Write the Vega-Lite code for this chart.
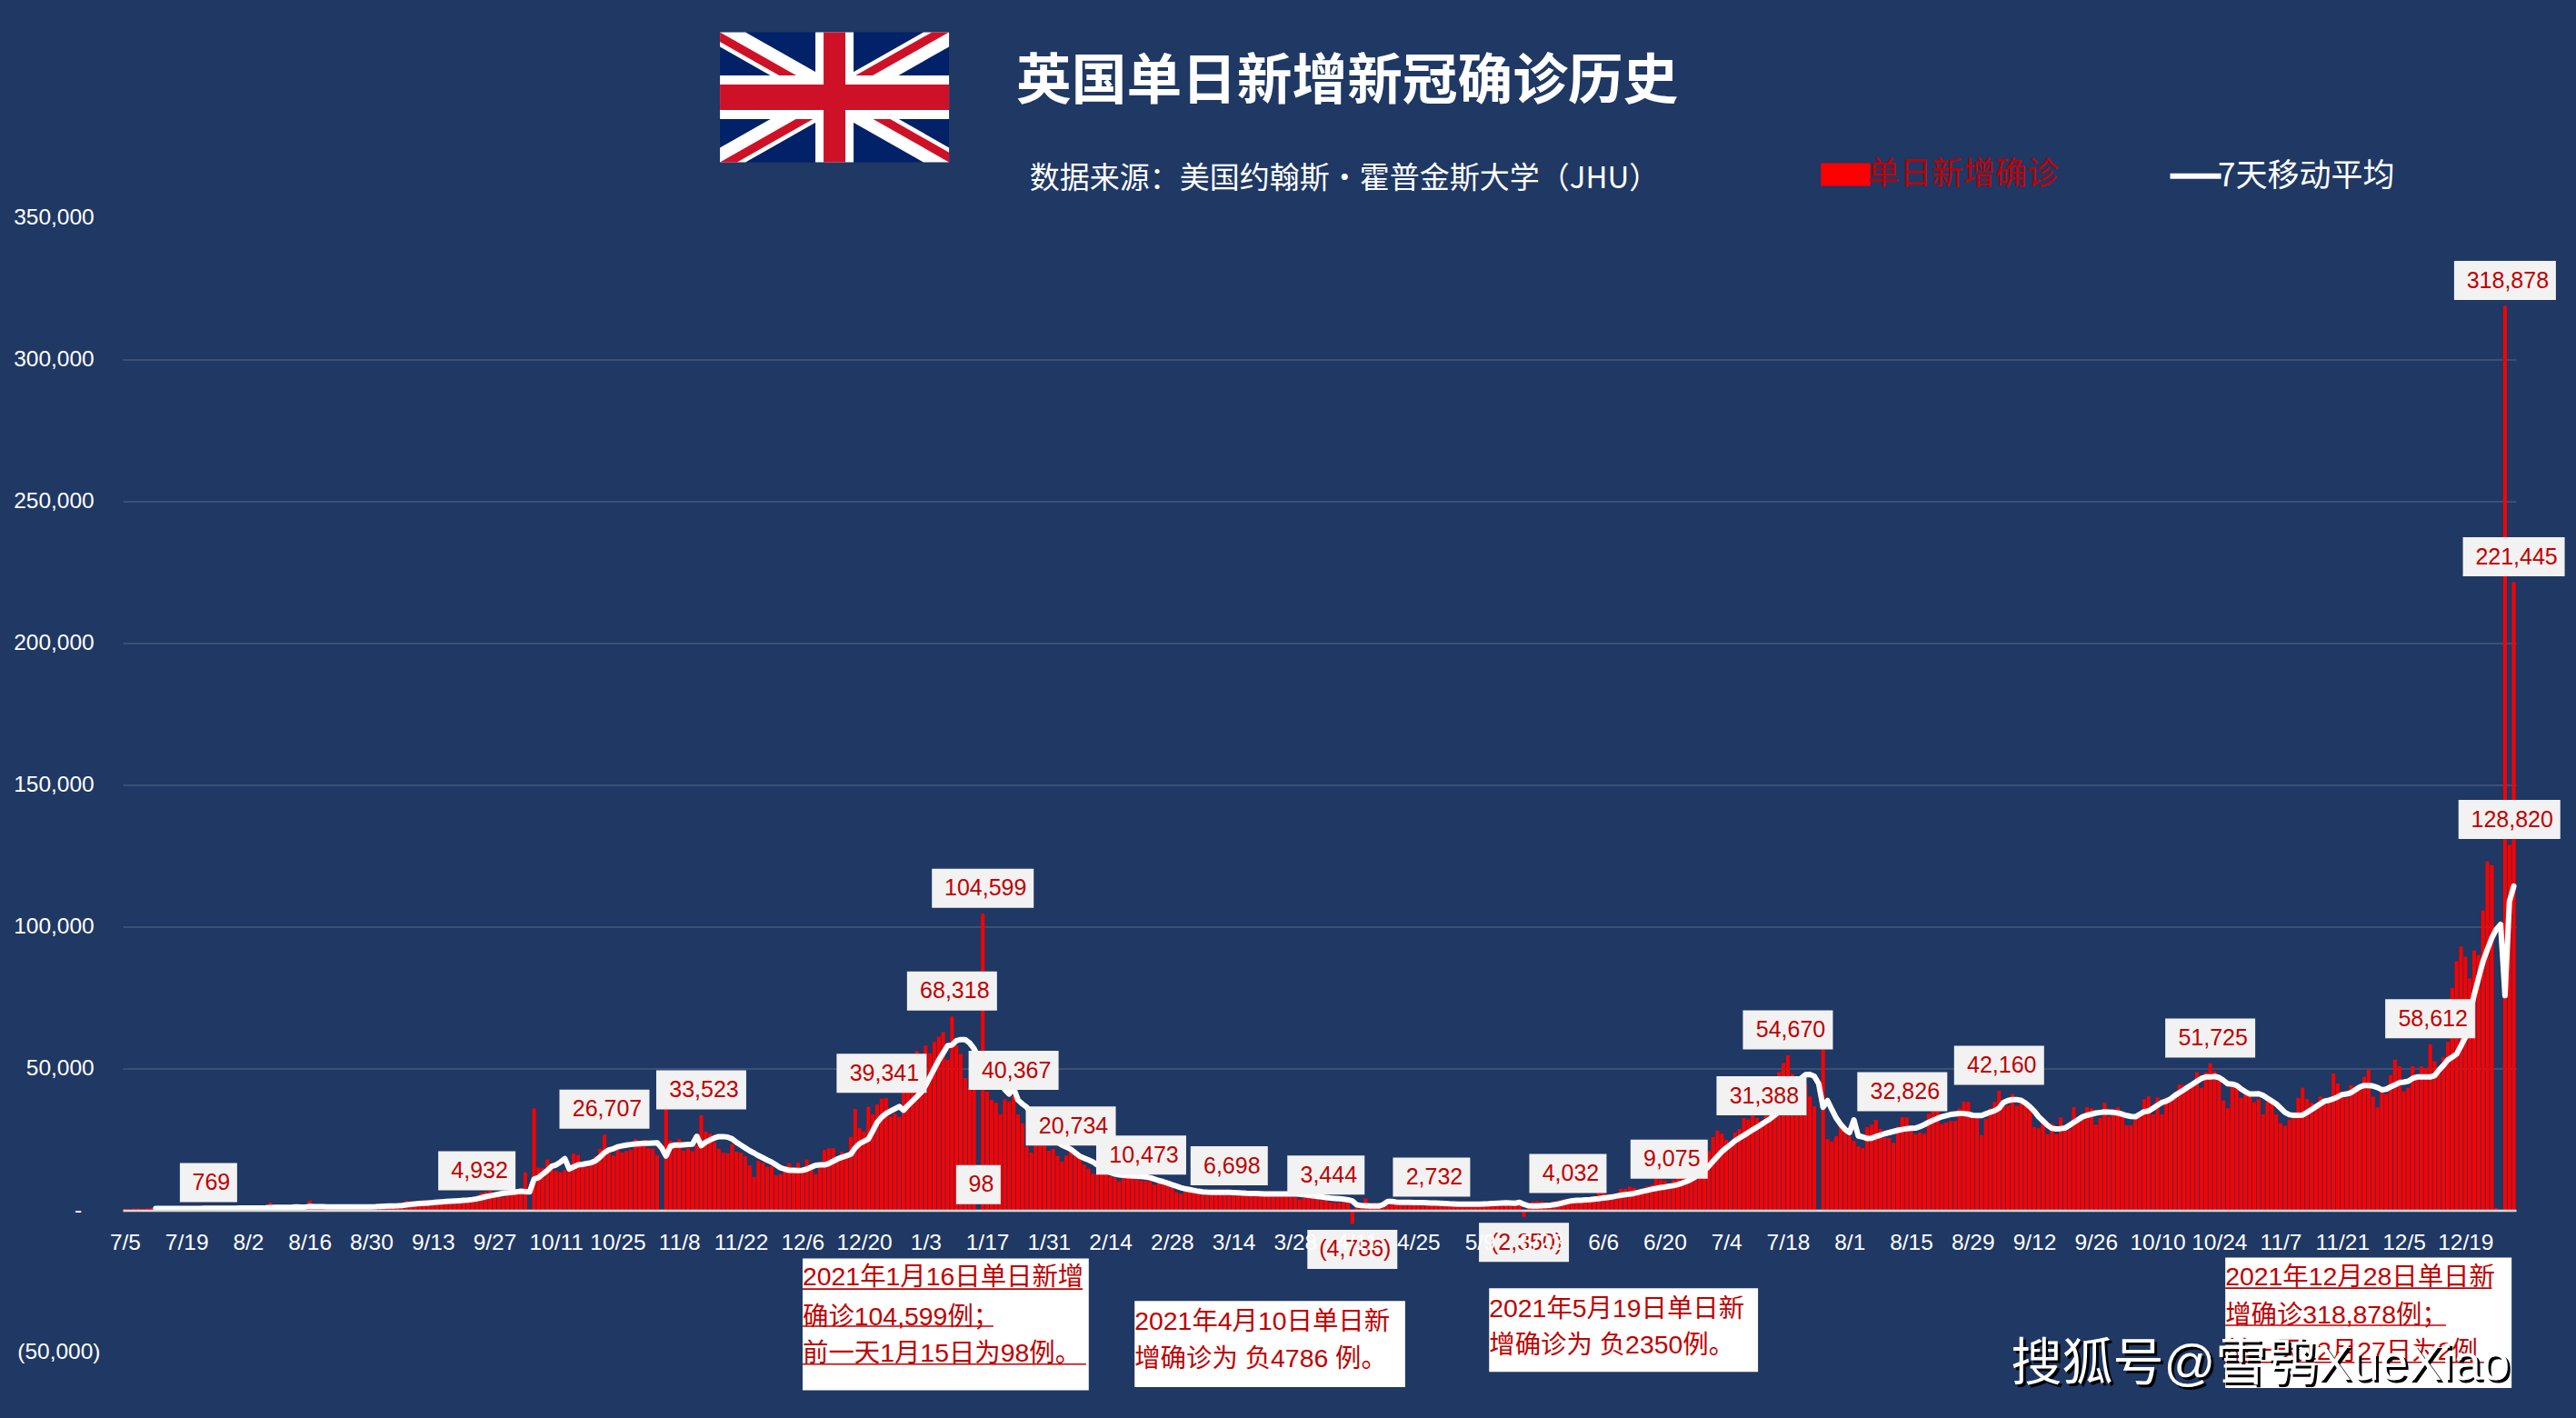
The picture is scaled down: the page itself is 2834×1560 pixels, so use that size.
{"$schema":"https://vega.github.io/schema/vega-lite/v6.json","autosize":{"type":"none"},"padding":{"left":135,"top":239.5,"right":66,"bottom":72.5},"width":2633,"height":1248,"background":"#1F3864","config":{"view":{"stroke":null},"font":"Liberation Sans, Noto Sans CJK SC"},
"title":{"text":"英国单日新增新冠确诊历史","subtitle":"\u200b\u00a0\u00a0数据来源：美国约翰斯·霍普金斯大学（JHU）","anchor":"start","frame":"group","dx":983,"dy":206,"offset":26,"font":"Noto Sans CJK SC","fontSize":60.7,"fontWeight":"bold","color":"#FFFFFF","subtitleFont":"Noto Sans CJK SC","subtitleFontSize":33,"subtitleColor":"#FFFFFF","subtitlePadding":60},
"datasets":{
"daily":[
{"date":"2020-07-05","n":516},{"date":"2020-07-06","n":352},{"date":"2020-07-07","n":581},{"date":"2020-07-08","n":630},{"date":"2020-07-09","n":512},{"date":"2020-07-10","n":642},{"date":"2020-07-11","n":820},{"date":"2020-07-12","n":650,"ma":640},{"date":"2020-07-13","n":530,"ma":640},{"date":"2020-07-14","n":538,"ma":640},{"date":"2020-07-15","n":463,"ma":640},{"date":"2020-07-16","n":642,"ma":640},{"date":"2020-07-17","n":687,"ma":650},{"date":"2020-07-18","n":700,"ma":660},{"date":"2020-07-19","n":726,"ma":670},{"date":"2020-07-20","n":580,"ma":680},{"date":"2020-07-21","n":445,"ma":680},{"date":"2020-07-22","n":560,"ma":680},{"date":"2020-07-23","n":730,"ma":690},{"date":"2020-07-24","n":769,"ma":700},{"date":"2020-07-25","n":768,"ma":710},{"date":"2020-07-26","n":743,"ma":710},{"date":"2020-07-27","n":685,"ma":720},{"date":"2020-07-28","n":581,"ma":730},{"date":"2020-07-29","n":763,"ma":740},{"date":"2020-07-30","n":846,"ma":760},{"date":"2020-07-31","n":880,"ma":780},
{"date":"2020-08-01","n":744,"ma":800},{"date":"2020-08-02","n":744,"ma":810},{"date":"2020-08-03","n":939,"ma":820},{"date":"2020-08-04","n":670,"ma":830},{"date":"2020-08-05","n":892,"ma":840},{"date":"2020-08-06","n":950,"ma":850},{"date":"2020-08-07","n":2700,"ma":1000},{"date":"2020-08-08","n":871,"ma":1030},{"date":"2020-08-09","n":1062,"ma":1050},{"date":"2020-08-10","n":816,"ma":1060},{"date":"2020-08-11","n":1148,"ma":1080},{"date":"2020-08-12","n":1009,"ma":1100},{"date":"2020-08-13","n":2000,"ma":1200},{"date":"2020-08-14","n":1440,"ma":1150},{"date":"2020-08-15","n":1012,"ma":1160},{"date":"2020-08-16","n":3400,"ma":1330},{"date":"2020-08-17","n":713,"ma":1300},{"date":"2020-08-18","n":812,"ma":1280},{"date":"2020-08-19","n":1182,"ma":1270},{"date":"2020-08-20","n":1033,"ma":1200},{"date":"2020-08-21","n":1288,"ma":1180},{"date":"2020-08-22","n":1041,"ma":1180},{"date":"2020-08-23","n":1700,"ma":1240},{"date":"2020-08-24","n":853,"ma":1200},{"date":"2020-08-25","n":1184,"ma":1190},{"date":"2020-08-26","n":1048,"ma":1180},{"date":"2020-08-27","n":1522,"ma":1200},{"date":"2020-08-28","n":1276,"ma":1200},{"date":"2020-08-29","n":1108,"ma":1200},{"date":"2020-08-30","n":1715,"ma":1200},{"date":"2020-08-31","n":1406,"ma":1250},
{"date":"2020-09-01","n":1295,"ma":1400},{"date":"2020-09-02","n":1508,"ma":1450},{"date":"2020-09-03","n":1735,"ma":1500},{"date":"2020-09-04","n":1813,"ma":1550},{"date":"2020-09-05","n":1900,"ma":1600},{"date":"2020-09-06","n":2500,"ma":1700},{"date":"2020-09-07","n":3300,"ma":1900},{"date":"2020-09-08","n":3200,"ma":2100},{"date":"2020-09-09","n":2700,"ma":2250},{"date":"2020-09-10","n":2900,"ma":2400},{"date":"2020-09-11","n":3500,"ma":2500},{"date":"2020-09-12","n":3700,"ma":2600},{"date":"2020-09-13","n":3300,"ma":2700},{"date":"2020-09-14","n":3000,"ma":2850},{"date":"2020-09-15","n":3300,"ma":3000},{"date":"2020-09-16","n":3900,"ma":3100},{"date":"2020-09-17","n":3400,"ma":3200},{"date":"2020-09-18","n":3400,"ma":3300},{"date":"2020-09-19","n":3900,"ma":3400},{"date":"2020-09-20","n":3900,"ma":3500},{"date":"2020-09-21","n":3900,"ma":3600},{"date":"2020-09-22","n":4000,"ma":3800},{"date":"2020-09-23","n":4932,"ma":4050},{"date":"2020-09-24","n":6200,"ma":4400},{"date":"2020-09-25","n":6500,"ma":4800},{"date":"2020-09-26","n":6900,"ma":5100},{"date":"2020-09-27","n":5700,"ma":5400},{"date":"2020-09-28","n":5700,"ma":5700},{"date":"2020-09-29","n":4600,"ma":6000},{"date":"2020-09-30","n":6000,"ma":6150},
{"date":"2020-10-01","n":6200,"ma":6300},{"date":"2020-10-02","n":6400,"ma":6500},{"date":"2020-10-03","n":7000,"ma":6700},{"date":"2020-10-04","n":13400,"ma":6600},{"date":"2020-10-05","n":300,"ma":6500},{"date":"2020-10-06","n":35950,"ma":11000},{"date":"2020-10-07","n":15000,"ma":11500},{"date":"2020-10-08","n":14800,"ma":12800},{"date":"2020-10-09","n":17900,"ma":14000},{"date":"2020-10-10","n":14500,"ma":15500},{"date":"2020-10-11","n":13900,"ma":16000},{"date":"2020-10-12","n":13400,"ma":17000},{"date":"2020-10-13","n":14250,"ma":18200},{"date":"2020-10-14","n":15500,"ma":14600},{"date":"2020-10-15","n":20000,"ma":15300},{"date":"2020-10-16","n":19450,"ma":16000},{"date":"2020-10-17","n":15500,"ma":16200},{"date":"2020-10-18","n":15300,"ma":16500},{"date":"2020-10-19","n":16500,"ma":16800},{"date":"2020-10-20","n":19050,"ma":17500},{"date":"2020-10-21","n":21700,"ma":18800},{"date":"2020-10-22","n":26707,"ma":20300},{"date":"2020-10-23","n":21700,"ma":21300},{"date":"2020-10-24","n":19250,"ma":21700},{"date":"2020-10-25","n":23200,"ma":22400},{"date":"2020-10-26","n":20300,"ma":22700},{"date":"2020-10-27","n":20850,"ma":23000},{"date":"2020-10-28","n":21400,"ma":23200},{"date":"2020-10-29","n":25100,"ma":23400},{"date":"2020-10-30","n":23500,"ma":23500},{"date":"2020-10-31","n":24900,"ma":23600},
{"date":"2020-11-01","n":21900,"ma":23600},{"date":"2020-11-02","n":21700,"ma":23700},{"date":"2020-11-03","n":19450,"ma":23800},{"date":"2020-11-04","n":300,"ma":22000},{"date":"2020-11-05","n":36000,"ma":19100},{"date":"2020-11-06","n":24550,"ma":22600},{"date":"2020-11-07","n":23500,"ma":23000},{"date":"2020-11-08","n":25100,"ma":23000},{"date":"2020-11-09","n":21000,"ma":23100},{"date":"2020-11-10","n":21900,"ma":23200},{"date":"2020-11-11","n":20850,"ma":23300},{"date":"2020-11-12","n":23000,"ma":26100},{"date":"2020-11-13","n":33523,"ma":22800},{"date":"2020-11-14","n":27750,"ma":24000},{"date":"2020-11-15","n":27000,"ma":24800},{"date":"2020-11-16","n":24000,"ma":25500},{"date":"2020-11-17","n":21700,"ma":26000},{"date":"2020-11-18","n":20300,"ma":26000},{"date":"2020-11-19","n":20100,"ma":25800},{"date":"2020-11-20","n":23300,"ma":25200},{"date":"2020-11-21","n":20650,"ma":24000},{"date":"2020-11-22","n":20300,"ma":23000},{"date":"2020-11-23","n":19050,"ma":22000},{"date":"2020-11-24","n":15850,"ma":21000},{"date":"2020-11-25","n":11800,"ma":20200},{"date":"2020-11-26","n":17450,"ma":19300},{"date":"2020-11-27","n":16800,"ma":18500},{"date":"2020-11-28","n":15300,"ma":17700},{"date":"2020-11-29","n":15500,"ma":17000},{"date":"2020-11-30","n":12350,"ma":16000},
{"date":"2020-12-01","n":12770,"ma":15000},{"date":"2020-12-02","n":13950,"ma":14500},{"date":"2020-12-03","n":16600,"ma":14100},{"date":"2020-12-04","n":14250,"ma":14100},{"date":"2020-12-05","n":16800,"ma":14000},{"date":"2020-12-06","n":15000,"ma":14100},{"date":"2020-12-07","n":17900,"ma":14500},{"date":"2020-12-08","n":15000,"ma":15200},{"date":"2020-12-09","n":12770,"ma":15900},{"date":"2020-12-10","n":16800,"ma":16000},{"date":"2020-12-11","n":21300,"ma":16000},{"date":"2020-12-12","n":21900,"ma":16500},{"date":"2020-12-13","n":21900,"ma":17300},{"date":"2020-12-14","n":18200,"ma":18100},{"date":"2020-12-15","n":20650,"ma":18700},{"date":"2020-12-16","n":18200,"ma":19200},{"date":"2020-12-17","n":25850,"ma":19800},{"date":"2020-12-18","n":35750,"ma":22000},{"date":"2020-12-19","n":29000,"ma":23500},{"date":"2020-12-20","n":27800,"ma":24300},{"date":"2020-12-21","n":36500,"ma":25100},{"date":"2020-12-22","n":33800,"ma":28000},{"date":"2020-12-23","n":37350,"ma":31000},{"date":"2020-12-24","n":39341,"ma":32800},{"date":"2020-12-25","n":39570,"ma":34100},{"date":"2020-12-26","n":33100,"ma":35000},{"date":"2020-12-27","n":34150,"ma":35800},{"date":"2020-12-28","n":32800,"ma":36600},{"date":"2020-12-29","n":50000,"ma":35300},{"date":"2020-12-30","n":47000,"ma":37000},{"date":"2020-12-31","n":51000,"ma":38500},
{"date":"2021-01-01","n":56200,"ma":40000},{"date":"2021-01-02","n":54000,"ma":41600},{"date":"2021-01-03","n":58100,"ma":44000},{"date":"2021-01-04","n":55400,"ma":47000},{"date":"2021-01-05","n":59350,"ma":50000},{"date":"2021-01-06","n":61250,"ma":53000},{"date":"2021-01-07","n":62860,"ma":55500},{"date":"2021-01-08","n":53080,"ma":58000},{"date":"2021-01-09","n":68318,"ma":58300},{"date":"2021-01-10","n":58100,"ma":59800},{"date":"2021-01-11","n":55100,"ma":60200},{"date":"2021-01-12","n":46600,"ma":60200},{"date":"2021-01-13","n":43200,"ma":59000},{"date":"2021-01-14","n":43700,"ma":57000},{"date":"2021-01-15","n":98,"ma":54000},{"date":"2021-01-16","n":104599,"ma":53000},{"date":"2021-01-17","n":41800,"ma":50500},{"date":"2021-01-18","n":38900,"ma":48000},{"date":"2021-01-19","n":37900,"ma":46000},{"date":"2021-01-20","n":33840,"ma":44500},{"date":"2021-01-21","n":39150,"ma":42600},{"date":"2021-01-22","n":38400,"ma":41000},{"date":"2021-01-23","n":40367,"ma":43200},{"date":"2021-01-24","n":33800,"ma":38900},{"date":"2021-01-25","n":30650,"ma":37500},{"date":"2021-01-26","n":22500,"ma":36300},{"date":"2021-01-27","n":20340,"ma":34500},{"date":"2021-01-28","n":25000,"ma":33000},{"date":"2021-01-29","n":29000,"ma":31000},{"date":"2021-01-30","n":23000,"ma":29500},{"date":"2021-01-31","n":21000,"ma":28000},
{"date":"2021-02-01","n":21600,"ma":26500},{"date":"2021-02-02","n":19160,"ma":24000},{"date":"2021-02-03","n":17150,"ma":23000},{"date":"2021-02-04","n":19270,"ma":22300},{"date":"2021-02-05","n":20734,"ma":21500},{"date":"2021-02-06","n":19500,"ma":20300},{"date":"2021-02-07","n":18740,"ma":19100},{"date":"2021-02-08","n":16080,"ma":18400},{"date":"2021-02-09","n":14700,"ma":17800},{"date":"2021-02-10","n":12900,"ma":17100},{"date":"2021-02-11","n":12900,"ma":16000},{"date":"2021-02-12","n":13700,"ma":15000},{"date":"2021-02-13","n":13300,"ma":14000},{"date":"2021-02-14","n":12000,"ma":13300},{"date":"2021-02-15","n":11500,"ma":12800},{"date":"2021-02-16","n":10240,"ma":12500},{"date":"2021-02-17","n":11300,"ma":12300},{"date":"2021-02-18","n":11500,"ma":12200},{"date":"2021-02-19","n":11600,"ma":12100},{"date":"2021-02-20","n":11300,"ma":12000},{"date":"2021-02-21","n":10473,"ma":11900},{"date":"2021-02-22","n":10450,"ma":11800},{"date":"2021-02-23","n":10240,"ma":11500},{"date":"2021-02-24","n":9000,"ma":11000},{"date":"2021-02-25","n":10240,"ma":10500},{"date":"2021-02-26","n":9700,"ma":10100},{"date":"2021-02-27","n":9000,"ma":9600},{"date":"2021-02-28","n":7900,"ma":9000},
{"date":"2021-03-01","n":6400,"ma":8500},{"date":"2021-03-02","n":5770,"ma":8000},{"date":"2021-03-03","n":6730,"ma":7600},{"date":"2021-03-04","n":6730,"ma":7300},{"date":"2021-03-05","n":6400,"ma":7000},{"date":"2021-03-06","n":5770,"ma":6700},{"date":"2021-03-07","n":5450,"ma":6500},{"date":"2021-03-08","n":5240,"ma":6400},{"date":"2021-03-09","n":5900,"ma":6350},{"date":"2021-03-10","n":5800,"ma":6300},{"date":"2021-03-11","n":6300,"ma":6300},{"date":"2021-03-12","n":6200,"ma":6300},{"date":"2021-03-13","n":6698,"ma":6300},{"date":"2021-03-14","n":5800,"ma":6250},{"date":"2021-03-15","n":5100,"ma":6200},{"date":"2021-03-16","n":5300,"ma":6100},{"date":"2021-03-17","n":5800,"ma":6000},{"date":"2021-03-18","n":6000,"ma":5950},{"date":"2021-03-19","n":6300,"ma":5900},{"date":"2021-03-20","n":5500,"ma":5850},{"date":"2021-03-21","n":5300,"ma":5800},{"date":"2021-03-22","n":5000,"ma":5750},{"date":"2021-03-23","n":4700,"ma":5750},{"date":"2021-03-24","n":4800,"ma":5750},{"date":"2021-03-25","n":4900,"ma":5750},{"date":"2021-03-26","n":4800,"ma":5750},{"date":"2021-03-27","n":4800,"ma":5750},{"date":"2021-03-28","n":4700,"ma":5750},{"date":"2021-03-29","n":3800,"ma":5700},{"date":"2021-03-30","n":4500,"ma":5500},{"date":"2021-03-31","n":4400,"ma":5300},
{"date":"2021-04-01","n":4300,"ma":5100},{"date":"2021-04-02","n":3900,"ma":4900},{"date":"2021-04-03","n":3600,"ma":4700},{"date":"2021-04-04","n":3444,"ma":4500},{"date":"2021-04-05","n":2900,"ma":4300},{"date":"2021-04-06","n":2700,"ma":4200},{"date":"2021-04-07","n":2800,"ma":4100},{"date":"2021-04-08","n":2800,"ma":3900},{"date":"2021-04-09","n":2700,"ma":3700},{"date":"2021-04-10","n":-4786,"ma":3300},{"date":"2021-04-11","n":1700,"ma":1900},{"date":"2021-04-12","n":1800,"ma":1700},{"date":"2021-04-13","n":4160,"ma":1600},{"date":"2021-04-14","n":2500,"ma":1500},{"date":"2021-04-15","n":2600,"ma":1500},{"date":"2021-04-16","n":2600,"ma":1500},{"date":"2021-04-17","n":2500,"ma":2000},{"date":"2021-04-18","n":1800,"ma":3100},{"date":"2021-04-19","n":2500,"ma":3100},{"date":"2021-04-20","n":2700,"ma":2900},{"date":"2021-04-21","n":2300,"ma":2800},{"date":"2021-04-22","n":2400,"ma":2800},{"date":"2021-04-23","n":2500,"ma":2800},{"date":"2021-04-24","n":2300,"ma":2750},{"date":"2021-04-25","n":1700,"ma":2700},{"date":"2021-04-26","n":1700,"ma":2700},{"date":"2021-04-27","n":2100,"ma":2650},{"date":"2021-04-28","n":2732,"ma":2600},{"date":"2021-04-29","n":2100,"ma":2550},{"date":"2021-04-30","n":2000,"ma":2500},
{"date":"2021-05-01","n":2000,"ma":2400},{"date":"2021-05-02","n":1600,"ma":2300},{"date":"2021-05-03","n":1700,"ma":2250},{"date":"2021-05-04","n":2000,"ma":2200},{"date":"2021-05-05","n":2300,"ma":2200},{"date":"2021-05-06","n":2500,"ma":2200},{"date":"2021-05-07","n":2100,"ma":2200},{"date":"2021-05-08","n":2000,"ma":2200},{"date":"2021-05-09","n":1700,"ma":2200},{"date":"2021-05-10","n":2400,"ma":2250},{"date":"2021-05-11","n":2300,"ma":2300},{"date":"2021-05-12","n":2700,"ma":2400},{"date":"2021-05-13","n":2700,"ma":2500},{"date":"2021-05-14","n":2300,"ma":2600},{"date":"2021-05-15","n":2100,"ma":2650},{"date":"2021-05-16","n":1900,"ma":2600},{"date":"2021-05-17","n":2300,"ma":2500},{"date":"2021-05-18","n":2400,"ma":2800},{"date":"2021-05-19","n":-2350,"ma":2100},{"date":"2021-05-20","n":2600,"ma":1600},{"date":"2021-05-21","n":3000,"ma":1500},{"date":"2021-05-22","n":3200,"ma":1500},{"date":"2021-05-23","n":3100,"ma":1600},{"date":"2021-05-24","n":2700,"ma":1700},{"date":"2021-05-25","n":2400,"ma":1800},{"date":"2021-05-26","n":3100,"ma":2000},{"date":"2021-05-27","n":3500,"ma":2300},{"date":"2021-05-28","n":3800,"ma":2700},{"date":"2021-05-29","n":4032,"ma":3100},{"date":"2021-05-30","n":3300,"ma":3400},{"date":"2021-05-31","n":3200,"ma":3500},
{"date":"2021-06-01","n":3300,"ma":3550},{"date":"2021-06-02","n":3600,"ma":3700},{"date":"2021-06-03","n":4200,"ma":3800},{"date":"2021-06-04","n":4900,"ma":3950},{"date":"2021-06-05","n":6500,"ma":4100},{"date":"2021-06-06","n":6000,"ma":4300},{"date":"2021-06-07","n":5650,"ma":4500},{"date":"2021-06-08","n":5400,"ma":4700},{"date":"2021-06-09","n":6000,"ma":5000},{"date":"2021-06-10","n":7560,"ma":5300},{"date":"2021-06-11","n":7600,"ma":5500},{"date":"2021-06-12","n":8300,"ma":5700},{"date":"2021-06-13","n":7880,"ma":5950},{"date":"2021-06-14","n":7300,"ma":6300},{"date":"2021-06-15","n":7700,"ma":6700},{"date":"2021-06-16","n":8500,"ma":7000},{"date":"2021-06-17","n":8940,"ma":7400},{"date":"2021-06-18","n":11070,"ma":7700},{"date":"2021-06-19","n":10850,"ma":8000},{"date":"2021-06-20","n":10430,"ma":8200},{"date":"2021-06-21","n":9075,"ma":8500},{"date":"2021-06-22","n":10750,"ma":8700},{"date":"2021-06-23","n":11500,"ma":9100},{"date":"2021-06-24","n":16000,"ma":9600},{"date":"2021-06-25","n":15500,"ma":10200},{"date":"2021-06-26","n":18000,"ma":10900},{"date":"2021-06-27","n":15000,"ma":11800},{"date":"2021-06-28","n":17000,"ma":13000},{"date":"2021-06-29","n":19000,"ma":14000},{"date":"2021-06-30","n":20850,"ma":15500},
{"date":"2021-07-01","n":25850,"ma":17300},{"date":"2021-07-02","n":28100,"ma":19000},{"date":"2021-07-03","n":27000,"ma":20700},{"date":"2021-07-04","n":24800,"ma":22000},{"date":"2021-07-05","n":23000,"ma":23200},{"date":"2021-07-06","n":27450,"ma":24500},{"date":"2021-07-07","n":28700,"ma":25500},{"date":"2021-07-08","n":32550,"ma":26400},{"date":"2021-07-09","n":32000,"ma":27400},{"date":"2021-07-10","n":33800,"ma":28400},{"date":"2021-07-11","n":32550,"ma":29300},{"date":"2021-07-12","n":31388,"ma":30300},{"date":"2021-07-13","n":36000,"ma":31300},{"date":"2021-07-14","n":42000,"ma":32300},{"date":"2021-07-15","n":47000,"ma":33500},{"date":"2021-07-16","n":48700,"ma":35000},{"date":"2021-07-17","n":51900,"ma":37000},{"date":"2021-07-18","n":54670,"ma":39500},{"date":"2021-07-19","n":48070,"ma":42000},{"date":"2021-07-20","n":46400,"ma":44500},{"date":"2021-07-21","n":44200,"ma":46500},{"date":"2021-07-22","n":44400,"ma":47800},{"date":"2021-07-23","n":40200,"ma":47900},{"date":"2021-07-24","n":36600,"ma":47300},{"date":"2021-07-25","n":300,"ma":44600},{"date":"2021-07-26","n":57000,"ma":36300},{"date":"2021-07-27","n":25100,"ma":38700},{"date":"2021-07-28","n":24260,"ma":35500},{"date":"2021-07-29","n":26170,"ma":32500},{"date":"2021-07-30","n":29360,"ma":30300},{"date":"2021-07-31","n":27450,"ma":28500},
{"date":"2021-08-01","n":26170,"ma":27400},{"date":"2021-08-02","n":24470,"ma":31900},{"date":"2021-08-03","n":22560,"ma":26200},{"date":"2021-08-04","n":21920,"ma":25900},{"date":"2021-08-05","n":29360,"ma":25300},{"date":"2021-08-06","n":30200,"ma":25400},{"date":"2021-08-07","n":31900,"ma":26000},{"date":"2021-08-08","n":28700,"ma":26500},{"date":"2021-08-09","n":25640,"ma":27000},{"date":"2021-08-10","n":25530,"ma":27400},{"date":"2021-08-11","n":23830,"ma":27800},{"date":"2021-08-12","n":29570,"ma":28200},{"date":"2021-08-13","n":32826,"ma":28500},{"date":"2021-08-14","n":32760,"ma":28800},{"date":"2021-08-15","n":28300,"ma":28900},{"date":"2021-08-16","n":26900,"ma":29000},{"date":"2021-08-17","n":27450,"ma":29500},{"date":"2021-08-18","n":27000,"ma":30200},{"date":"2021-08-19","n":34040,"ma":31000},{"date":"2021-08-20","n":35200,"ma":31700},{"date":"2021-08-21","n":35500,"ma":32400},{"date":"2021-08-22","n":30400,"ma":33000},{"date":"2021-08-23","n":30950,"ma":33400},{"date":"2021-08-24","n":31480,"ma":33800},{"date":"2021-08-25","n":31500,"ma":34000},{"date":"2021-08-26","n":35950,"ma":34100},{"date":"2021-08-27","n":38300,"ma":34100},{"date":"2021-08-28","n":38200,"ma":33900},{"date":"2021-08-29","n":32550,"ma":33500},{"date":"2021-08-30","n":33080,"ma":33400},{"date":"2021-08-31","n":26500,"ma":33400},
{"date":"2021-09-01","n":32230,"ma":34000},{"date":"2021-09-02","n":35950,"ma":34600},{"date":"2021-09-03","n":38200,"ma":35100},{"date":"2021-09-04","n":42160,"ma":36000},{"date":"2021-09-05","n":37230,"ma":38000},{"date":"2021-09-06","n":36900,"ma":38700},{"date":"2021-09-07","n":41050,"ma":39000},{"date":"2021-09-08","n":36800,"ma":39000},{"date":"2021-09-09","n":37860,"ma":38800},{"date":"2021-09-10","n":37860,"ma":37800},{"date":"2021-09-11","n":37000,"ma":36500},{"date":"2021-09-12","n":29360,"ma":35000},{"date":"2021-09-13","n":28940,"ma":33000},{"date":"2021-09-14","n":30640,"ma":31500},{"date":"2021-09-15","n":26800,"ma":30000},{"date":"2021-09-16","n":30640,"ma":28900},{"date":"2021-09-17","n":26800,"ma":28700},{"date":"2021-09-18","n":32760,"ma":28800},{"date":"2021-09-19","n":28500,"ma":29000},{"date":"2021-09-20","n":28500,"ma":30000},{"date":"2021-09-21","n":36375,"ma":31000},{"date":"2021-09-22","n":31170,"ma":32000},{"date":"2021-09-23","n":34040,"ma":33000},{"date":"2021-09-24","n":36375,"ma":33500},{"date":"2021-09-25","n":35950,"ma":33900},{"date":"2021-09-26","n":30200,"ma":34300},{"date":"2021-09-27","n":32550,"ma":34500},{"date":"2021-09-28","n":37860,"ma":34700},{"date":"2021-09-29","n":33080,"ma":34600},{"date":"2021-09-30","n":35700,"ma":34500},
{"date":"2021-10-01","n":36270,"ma":34300},{"date":"2021-10-02","n":34500,"ma":33900},{"date":"2021-10-03","n":30000,"ma":33400},{"date":"2021-10-04","n":30000,"ma":33100},{"date":"2021-10-05","n":33080,"ma":33000},{"date":"2021-10-06","n":33080,"ma":33900},{"date":"2021-10-07","n":39140,"ma":34800},{"date":"2021-10-08","n":40200,"ma":35000},{"date":"2021-10-09","n":33800,"ma":36000},{"date":"2021-10-10","n":39780,"ma":37000},{"date":"2021-10-11","n":33800,"ma":38000},{"date":"2021-10-12","n":39780,"ma":38500},{"date":"2021-10-13","n":38400,"ma":39300},{"date":"2021-10-14","n":41700,"ma":40500},{"date":"2021-10-15","n":44300,"ma":41500},{"date":"2021-10-16","n":44100,"ma":42500},{"date":"2021-10-17","n":42600,"ma":43500},{"date":"2021-10-18","n":44300,"ma":44500},{"date":"2021-10-19","n":48600,"ma":45500},{"date":"2021-10-20","n":43200,"ma":46500},{"date":"2021-10-21","n":48600,"ma":47000},{"date":"2021-10-22","n":51725,"ma":47000},{"date":"2021-10-23","n":49000,"ma":47200},{"date":"2021-10-24","n":45900,"ma":46800},{"date":"2021-10-25","n":38750,"ma":45800},{"date":"2021-10-26","n":36000,"ma":44600},{"date":"2021-10-27","n":43700,"ma":44500},{"date":"2021-10-28","n":43500,"ma":44000},{"date":"2021-10-29","n":39650,"ma":42800},{"date":"2021-10-30","n":41000,"ma":41800},{"date":"2021-10-31","n":40300,"ma":41000},
{"date":"2021-11-01","n":38100,"ma":41000},{"date":"2021-11-02","n":39200,"ma":41100},{"date":"2021-11-03","n":33800,"ma":40500},{"date":"2021-11-04","n":38300,"ma":39500},{"date":"2021-11-05","n":37400,"ma":38500},{"date":"2021-11-06","n":33800,"ma":37500},{"date":"2021-11-07","n":30700,"ma":36000},{"date":"2021-11-08","n":29800,"ma":34500},{"date":"2021-11-09","n":32000,"ma":33700},{"date":"2021-11-10","n":33600,"ma":33500},{"date":"2021-11-11","n":39650,"ma":33500},{"date":"2021-11-12","n":43200,"ma":33600},{"date":"2021-11-13","n":39200,"ma":34500},{"date":"2021-11-14","n":37900,"ma":35500},{"date":"2021-11-15","n":35800,"ma":36500},{"date":"2021-11-16","n":40100,"ma":37500},{"date":"2021-11-17","n":37900,"ma":38500},{"date":"2021-11-18","n":39200,"ma":38800},{"date":"2021-11-19","n":48200,"ma":39300},{"date":"2021-11-20","n":44600,"ma":40000},{"date":"2021-11-21","n":39650,"ma":40800},{"date":"2021-11-22","n":39700,"ma":41000},{"date":"2021-11-23","n":44100,"ma":41500},{"date":"2021-11-24","n":43700,"ma":42500},{"date":"2021-11-25","n":42600,"ma":43500},{"date":"2021-11-26","n":47000,"ma":44000},{"date":"2021-11-27","n":49700,"ma":44000},{"date":"2021-11-28","n":40100,"ma":43800},{"date":"2021-11-29","n":36300,"ma":43300},{"date":"2021-11-30","n":42100,"ma":42500},
{"date":"2021-12-01","n":41000,"ma":42700},{"date":"2021-12-02","n":47700,"ma":43500},{"date":"2021-12-03","n":53100,"ma":44200},{"date":"2021-12-04","n":50800,"ma":45000},{"date":"2021-12-05","n":41900,"ma":45200},{"date":"2021-12-06","n":43200,"ma":45500},{"date":"2021-12-07","n":50800,"ma":46500},{"date":"2021-12-08","n":47000,"ma":47000},{"date":"2021-12-09","n":50800,"ma":47000},{"date":"2021-12-10","n":50200,"ma":47000},{"date":"2021-12-11","n":58612,"ma":47000},{"date":"2021-12-12","n":52600,"ma":47500},{"date":"2021-12-13","n":48200,"ma":49500},{"date":"2021-12-14","n":54000,"ma":51100},{"date":"2021-12-15","n":59400,"ma":53000},{"date":"2021-12-16","n":78400,"ma":54000},{"date":"2021-12-17","n":87800,"ma":55100},{"date":"2021-12-18","n":93000,"ma":58000},{"date":"2021-12-19","n":89400,"ma":61000},{"date":"2021-12-20","n":81800,"ma":69000},{"date":"2021-12-21","n":91600,"ma":76000},{"date":"2021-12-22","n":90000,"ma":82000},{"date":"2021-12-23","n":105700,"ma":87700},{"date":"2021-12-24","n":123000,"ma":92000},{"date":"2021-12-25","n":121600,"ma":96000},{"date":"2021-12-26","n":800,"ma":99000},{"date":"2021-12-27","n":2,"ma":100800},{"date":"2021-12-28","n":318878,"ma":75700},{"date":"2021-12-29","n":128820,"ma":108800},{"date":"2021-12-30","n":221445,"ma":114300}
],
"peaks":[
{"date":"2020-07-24","n":769,"label":"769"},{"date":"2020-09-23","n":4932,"label":"4,932"},{"date":"2020-10-22","n":26707,"label":"26,707"},{"date":"2020-11-13","n":33523,"label":"33,523"},{"date":"2020-12-24","n":39341,"label":"39,341"},{"date":"2021-01-09","n":68318,"label":"68,318"},{"date":"2021-01-15","n":98,"label":"98"},{"date":"2021-01-16","n":104599,"label":"104,599"},{"date":"2021-01-23","n":40367,"label":"40,367"},{"date":"2021-02-05","n":20734,"label":"20,734"},{"date":"2021-02-21","n":10473,"label":"10,473"},{"date":"2021-03-13","n":6698,"label":"6,698"},{"date":"2021-04-04","n":3444,"label":"3,444"},{"date":"2021-04-10","n":-4786,"label":"(4,786)"},{"date":"2021-04-28","n":2732,"label":"2,732"},{"date":"2021-05-19","n":-2350,"label":"(2,350)"},{"date":"2021-05-29","n":4032,"label":"4,032"},{"date":"2021-06-21","n":9075,"label":"9,075"},{"date":"2021-07-12","n":31388,"label":"31,388"},{"date":"2021-07-18","n":54670,"label":"54,670"},{"date":"2021-08-13","n":32826,"label":"32,826"},{"date":"2021-09-04","n":42160,"label":"42,160"},{"date":"2021-10-22","n":51725,"label":"51,725"},{"date":"2021-12-11","n":58612,"label":"58,612"},{"date":"2021-12-28","n":318878,"label":"318,878"},{"date":"2021-12-29","n":128820,"label":"128,820"},{"date":"2021-12-30","n":221445,"label":"221,445"}
],
"noteBoxes":[
{"start":"2020-12-06T01:00:00Z","end":"2021-02-09T02:00:00Z","top":-17000,"bottom":-63500},
{"start":"2021-02-19T12:00:00Z","end":"2021-04-22T00:00:00Z","top":-32000,"bottom":-62300},
{"start":"2021-05-11T02:00:00Z","end":"2021-07-11T05:00:00Z","top":-27500,"bottom":-57000},
{"start":"2021-10-25T10:00:00Z","end":"2021-12-29T12:00:00Z","top":-16700,"bottom":-62700}
],
"noteLines":[
{"start":"2020-12-06T01:00:00Z","level":-22660,"text":"2021年1月16日单日新增"},
{"start":"2020-12-06T01:00:00Z","level":-36700,"text":"确诊104,599例；"},
{"start":"2020-12-06T01:00:00Z","level":-49470,"text":"前一天1月15日为98例。"},
{"start":"2021-02-19T12:00:00Z","level":-38300,"text":"2021年4月10日单日新"},
{"start":"2021-02-19T12:00:00Z","level":-51380,"text":"增确诊为 负4786 例。"},
{"start":"2021-05-11T02:00:00Z","level":-33830,"text":"2021年5月19日单日新"},
{"start":"2021-05-11T02:00:00Z","level":-46600,"text":"增确诊为 负2350例。"},
{"start":"2021-10-25T10:00:00Z","level":-22660,"text":"2021年12月28日单日新"},
{"start":"2021-10-25T10:00:00Z","level":-36060,"text":"增确诊318,878例；"},
{"start":"2021-10-25T10:00:00Z","level":-48830,"text":"前一天12月27日为2例"}
],
"underlines":[
{"start":"2020-12-06T01:00:00Z","end":"2021-02-07T17:00:00Z","level":-27770},
{"start":"2020-12-06T01:00:00Z","end":"2021-01-18T10:00:00Z","level":-40850},
{"start":"2020-12-06T01:00:00Z","end":"2021-02-08T12:00:00Z","level":-54260},
{"start":"2021-10-25T10:00:00Z","end":"2021-12-25T00:00:00Z","level":-27450},
{"start":"2021-10-25T10:00:00Z","end":"2021-12-14T14:00:00Z","level":-40530},
{"start":"2021-10-25T10:00:00Z","end":"2021-12-25T00:00:00Z","level":-53620}
],
"flag":[{"date":"2020-12-13T07:00:00Z","level":392500}],
"mark":[{"date":"2021-11-02T10:00:00Z","level":-53360,"text":"搜狐号@雪鸮XueXiao"}]
},
"encoding":{"x":{"field":"date","type":"temporal","title":null,"scale":{"type":"utc","domain":[1593864000000,1640865600000],"nice":false,"padding":0}}},
"layer":[
{"data":{"name":"daily"},"mark":{"type":"bar","size":4},"encoding":{
"x":{"field":"date","type":"temporal","title":null,"scale":{"type":"utc","domain":[1593864000000,1640865600000],"nice":false,"padding":0},"axis":{"values":[1593907200000,1595116800000,1596326400000,1597536000000,1598745600000,1599955200000,1601164800000,1602374400000,1603584000000,1604793600000,1606003200000,1607212800000,1608422400000,1609632000000,1610841600000,1612051200000,1613260800000,1614470400000,1615680000000,1616889600000,1618099200000,1619308800000,1620518400000,1621728000000,1622937600000,1624147200000,1625356800000,1626566400000,1627776000000,1628985600000,1630195200000,1631404800000,1632614400000,1633824000000,1635033600000,1636243200000,1637452800000,1638662400000,1639872000000],"labelExpr":"utcFormat(datum.value,'%-m/%-d')","offset":-156,"zindex":1,"grid":false,"ticks":false,"domainColor":"#D9D9D9","domainWidth":2.5,"labelColor":"#FFFFFF","labelFont":"Liberation Sans","labelFontSize":24.5,"labelPadding":24,"labelOverlap":false,"labelFlush":false,"labelAngle":0}},
"y":{"field":"n","type":"quantitative","title":null,"scale":{"domain":[-50000,350000],"nice":false},"axis":{"values":[-50000,0,50000,100000,150000,200000,250000,300000,350000],"labelExpr":"datum.value==0?'-\u00a0\u00a0\u00a0\u200b':datum.value<0?'('+format(-datum.value,',')+')':format(datum.value,',')+'\u00a0\u200b'","domain":false,"ticks":false,"grid":true,"gridColor":{"condition":{"test":"datum.value>=350000||datum.value<=0","value":"transparent"},"value":"#47587C"},"gridWidth":1.5,"labelColor":"#FFFFFF","labelFont":"Liberation Sans","labelFontSize":24.5,"labelPadding":25}},
"color":{"datum":"单日新增确诊","scale":{"domain":["单日新增确诊","7天移动平均"],"range":["#FF0000","#FFFFFF"]},"legend":{"orient":"none","legendX":1867,"legendY":-76,"direction":"horizontal","title":null,"symbolSize":2601,"labelFont":"Noto Sans CJK SC","labelFontSize":35,"labelLimit":400,"labelOffset":-4,"columnPadding":109,"encode":{"symbols":{"update":{"shape":{"signal":"datum.value=='7天移动平均'?'M-1.1,0H1.1':'M-0.95,-0.37H0.95V0.37H-0.95Z'"},"fill":{"signal":"datum.value=='7天移动平均'?'transparent':'#FF0000'"},"stroke":{"signal":"datum.value=='7天移动平均'?'#FFFFFF':'transparent'"},"strokeWidth":{"value":6}}},"labels":{"update":{"fill":{"signal":"datum.value=='7天移动平均'?'#FFFFFF':'#C00000'"}}}}}}
}},
{"data":{"name":"daily"},"mark":{"type":"line","strokeWidth":6,"strokeCap":"round","strokeJoin":"round"},"encoding":{"y":{"field":"ma","type":"quantitative"},"color":{"datum":"7天移动平均"}}},
{"data":{"name":"peaks"},"transform":[{"calculate":"test(/^\\(/,datum.label)?6:length(datum.label)","as":"chars"}],"mark":{"type":"point","filled":true,"opacity":1,"size":4,"fill":"#F2F2F2","yOffset":{"expr":"datum.n<0?28:-28"}},"encoding":{"y":{"field":"n","type":"quantitative"},"shape":{"field":"chars","type":"nominal","legend":null,"scale":{"domain":[2,3,5,6,7],"range":["M-24.5,-21.5H24.5V21.5H-24.5Z","M-31.5,-21.5H31.5V21.5H-31.5Z","M-42.5,-21.5H42.5V21.5H-42.5Z","M-49.5,-21.5H49.5V21.5H-49.5Z","M-56,-21.5H56V21.5H-56Z"]}}}},
{"data":{"name":"peaks"},"mark":{"type":"text","color":"#C00000","font":"Liberation Sans","fontSize":25,"dx":3,"yOffset":{"expr":"datum.n<0?28:-28"}},"encoding":{"y":{"field":"n","type":"quantitative"},"text":{"field":"label","type":"nominal"}}},
{"data":{"name":"noteBoxes"},"mark":{"type":"rect","color":"#FFFFFF"},"encoding":{"x":{"field":"start","type":"temporal"},"x2":{"field":"end"},"y":{"field":"top","type":"quantitative"},"y2":{"field":"bottom"}}},
{"data":{"name":"underlines"},"mark":{"type":"rule","color":"#C00000","strokeWidth":1.6},"encoding":{"x":{"field":"start","type":"temporal"},"x2":{"field":"end"},"y":{"field":"level","type":"quantitative"}}},
{"data":{"name":"noteLines"},"mark":{"type":"text","color":"#C00000","align":"left","font":"Liberation Sans, Noto Sans CJK SC","fontSize":28.4,"dy":3},"encoding":{"x":{"field":"start","type":"temporal"},"y":{"field":"level","type":"quantitative"},"text":{"field":"text","type":"nominal"}}},
{"data":{"name":"flag"},"mark":{"type":"point","filled":true,"opacity":1,"size":4,"fill":"#012169","shape":"M-126,-71.5H126V71.5H-126Z"},"encoding":{"y":{"field":"level","type":"quantitative"}}},
{"data":{"name":"flag"},"mark":{"type":"point","filled":true,"opacity":1,"size":4,"fill":"#FFFFFF","shape":"M-126,-71.5L-97.9,-71.5L126,55.5L126,71.5L97.9,71.5L-126,-55.5ZM126,-71.5L97.9,-71.5L-126,55.5L-126,71.5L-97.9,71.5L126,-55.5Z"},"encoding":{"y":{"field":"level","type":"quantitative"}}},
{"data":{"name":"flag"},"mark":{"type":"point","filled":true,"opacity":1,"size":4,"fill":"#CE1126","shape":"M-126,-71.5L-42,-23.8L-60.8,-23.8L-126,-60.8ZM126,71.5L42,23.8L60.8,23.8L126,60.8ZM126,-71.5L107.2,-71.5L23.2,-23.8L42,-23.8ZM-126,71.5L-107.2,71.5L-23.2,23.8L-42,23.8Z"},"encoding":{"y":{"field":"level","type":"quantitative"}}},
{"data":{"name":"flag"},"mark":{"type":"point","filled":true,"opacity":1,"size":4,"fill":"#FFFFFF","shape":"M-21,-71.5H21V-24H126V24H21V71.5H-21V24H-126V-24H-21Z"},"encoding":{"y":{"field":"level","type":"quantitative"}}},
{"data":{"name":"flag"},"mark":{"type":"point","filled":true,"opacity":1,"size":4,"fill":"#CE1126","shape":"M-12,-71.5H12V-14H126V14H12V71.5H-12V14H-126V-14H-12Z"},"encoding":{"y":{"field":"level","type":"quantitative"}}},
{"data":{"name":"mark"},"mark":{"type":"text","color":"#000000","font":"Liberation Sans, Noto Sans CJK SC","fontSize":56,"dx":3,"dy":6},"encoding":{"y":{"field":"level","type":"quantitative"},"text":{"field":"text","type":"nominal"}}},
{"data":{"name":"mark"},"mark":{"type":"text","color":"#FFFFFF","font":"Liberation Sans, Noto Sans CJK SC","fontSize":56,"dy":3},"encoding":{"y":{"field":"level","type":"quantitative"},"text":{"field":"text","type":"nominal"}}}
]}
